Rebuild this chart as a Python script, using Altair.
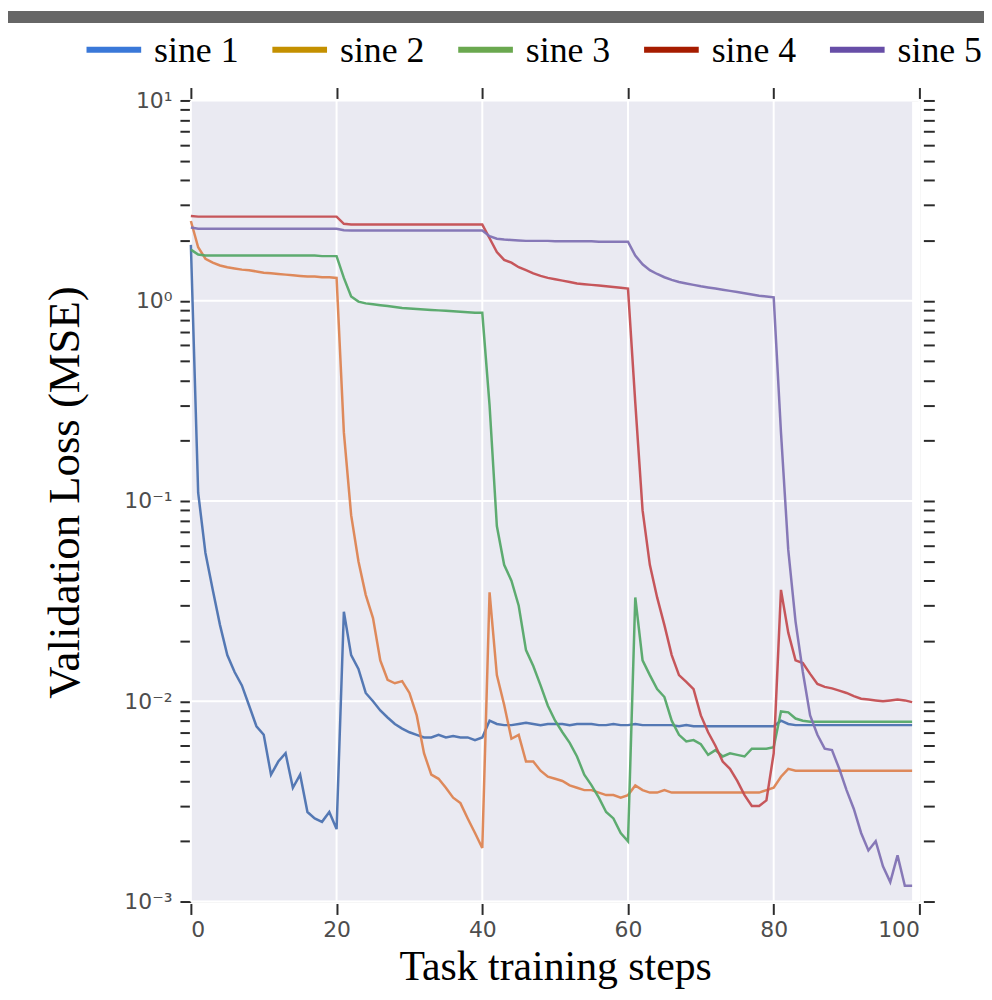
import altair as alt
import pandas as pd

steps = list(range(100))

sine_1 = [1.9, 0.11, 0.055, 0.036, 0.024, 0.017, 0.014, 0.012, 0.0095, 0.0075,
          0.0068, 0.0043, 0.0050, 0.0055, 0.0037, 0.0043, 0.0028, 0.0026, 0.0025, 0.0028,
          0.0023, 0.028, 0.017, 0.0145, 0.011, 0.0100, 0.0090, 0.0083, 0.0077, 0.0073,
          0.0070, 0.0068, 0.0066, 0.0066, 0.0068, 0.0066, 0.0067, 0.0066, 0.0066, 0.0064,
          0.0066, 0.0080, 0.0077, 0.0076, 0.0076, 0.0077, 0.0078, 0.0077, 0.0076, 0.0077,
          0.0077, 0.0077, 0.0076, 0.0077, 0.0077, 0.0077, 0.0076, 0.0076, 0.0077, 0.0076,
          0.0076, 0.0077, 0.0076, 0.0076, 0.0076, 0.0076, 0.0076, 0.0075, 0.0076, 0.0075,
          0.0075, 0.0075, 0.0075, 0.0075, 0.0075, 0.0075, 0.0075, 0.0075, 0.0075, 0.0075,
          0.0075, 0.0080, 0.0077, 0.0076, 0.0076, 0.0076, 0.0076, 0.0076, 0.0076, 0.0076,
          0.0076, 0.0076, 0.0076, 0.0076, 0.0076, 0.0076, 0.0076, 0.0076, 0.0076, 0.0076]

sine_2 = [2.5, 1.85, 1.62, 1.55, 1.5, 1.47, 1.45, 1.43, 1.42, 1.40,
          1.38, 1.37, 1.36, 1.35, 1.34, 1.33, 1.32, 1.32, 1.31, 1.31,
          1.30, 0.22, 0.085, 0.05, 0.034, 0.026, 0.016, 0.0128, 0.0123, 0.0126,
          0.011, 0.0085, 0.0055, 0.0043, 0.0041, 0.0037, 0.0033, 0.0031, 0.0026, 0.0022,
          0.00185, 0.035, 0.0135, 0.0096, 0.0065, 0.0068, 0.0050, 0.0050, 0.0045, 0.0042,
          0.0041, 0.0040, 0.0038, 0.0037, 0.0036, 0.0036, 0.0035, 0.0034, 0.0034, 0.0033,
          0.0034, 0.0038, 0.0036, 0.0035, 0.0035, 0.0036, 0.0035, 0.0035, 0.0035, 0.0035,
          0.0035, 0.0035, 0.0035, 0.0035, 0.0035, 0.0035, 0.0035, 0.0035, 0.0035, 0.0036,
          0.0037, 0.0042, 0.0046, 0.0045, 0.0045, 0.0045, 0.0045, 0.0045, 0.0045, 0.0045,
          0.0045, 0.0045, 0.0045, 0.0045, 0.0045, 0.0045, 0.0045, 0.0045, 0.0045, 0.0045]

sine_3 = [1.8, 1.7, 1.68, 1.68, 1.68, 1.68, 1.68, 1.68, 1.68, 1.68,
          1.68, 1.68, 1.68, 1.68, 1.68, 1.68, 1.68, 1.68, 1.67, 1.67,
          1.67, 1.3, 1.05, 0.99, 0.97, 0.96, 0.95, 0.94, 0.93, 0.92,
          0.915, 0.91, 0.905, 0.90, 0.895, 0.89, 0.885, 0.88, 0.875, 0.87,
          0.87, 0.30, 0.075, 0.048, 0.040, 0.030, 0.018, 0.015, 0.012, 0.0095,
          0.0080, 0.0070, 0.0062, 0.0053, 0.0043, 0.0038, 0.0033, 0.0028, 0.0026, 0.0022,
          0.0020, 0.033, 0.016, 0.0135, 0.0115, 0.0105, 0.0080, 0.0068, 0.0063, 0.0064,
          0.0061, 0.0054, 0.0057, 0.0053, 0.0055, 0.0054, 0.0053, 0.0058, 0.0058, 0.0058,
          0.0059, 0.0089, 0.0088, 0.0082, 0.0080, 0.0079, 0.0079, 0.0079, 0.0079, 0.0079,
          0.0079, 0.0079, 0.0079, 0.0079, 0.0079, 0.0079, 0.0079, 0.0079, 0.0079, 0.0079]

sine_4 = [2.65, 2.63, 2.63, 2.63, 2.63, 2.63, 2.63, 2.63, 2.63, 2.63,
          2.63, 2.63, 2.63, 2.63, 2.63, 2.63, 2.63, 2.63, 2.63, 2.63,
          2.63, 2.42, 2.40, 2.40, 2.40, 2.40, 2.40, 2.40, 2.40, 2.40,
          2.40, 2.40, 2.40, 2.40, 2.40, 2.40, 2.40, 2.40, 2.40, 2.40,
          2.40, 2.05, 1.75, 1.6, 1.55, 1.47, 1.42, 1.37, 1.33, 1.30,
          1.28, 1.26, 1.24, 1.22, 1.21, 1.20, 1.19, 1.18, 1.17, 1.16,
          1.15, 0.31, 0.09, 0.048, 0.033, 0.024, 0.017, 0.0135, 0.0125, 0.0115,
          0.0085, 0.0070, 0.0060, 0.0050, 0.0046, 0.0040, 0.0034, 0.0030, 0.0030, 0.0032,
          0.0055, 0.036, 0.022, 0.016, 0.0155, 0.0137, 0.0122, 0.0118, 0.0116, 0.0113,
          0.011, 0.0106, 0.0103, 0.0102, 0.0101, 0.0100, 0.0101, 0.0102, 0.0101, 0.0099]

sine_5 = [2.32, 2.29, 2.29, 2.29, 2.29, 2.29, 2.29, 2.29, 2.29, 2.29,
          2.29, 2.29, 2.29, 2.29, 2.29, 2.29, 2.29, 2.29, 2.29, 2.29,
          2.29, 2.25, 2.24, 2.24, 2.24, 2.24, 2.24, 2.24, 2.24, 2.24,
          2.24, 2.24, 2.24, 2.24, 2.24, 2.24, 2.24, 2.24, 2.24, 2.24,
          2.24, 2.1, 2.04, 2.02, 2.01, 2.0, 1.99, 1.99, 1.99, 1.99,
          1.98, 1.98, 1.98, 1.98, 1.98, 1.98, 1.97, 1.97, 1.97, 1.97,
          1.97, 1.68, 1.52, 1.42, 1.36, 1.31, 1.27, 1.24, 1.22, 1.20,
          1.18, 1.165, 1.15, 1.135, 1.12, 1.105, 1.09, 1.075, 1.06, 1.05,
          1.04, 0.22, 0.057, 0.025, 0.014, 0.0085, 0.0068, 0.0058, 0.0057, 0.0046,
          0.0036, 0.0029, 0.0022, 0.0018, 0.0020, 0.0015, 0.00125, 0.0017, 0.0012, 0.0012]

series_names = ["sine 1", "sine 2", "sine 3", "sine 4", "sine 5"]
line_colors = ["#4c72b0", "#dd8452", "#55a868", "#c44e52", "#8172b3"]
legend_colors = ["#3a78d8", "#c49000", "#6aa84f", "#a61c00", "#674ea7"]

x_tick_values = [0, 20, 40, 60, 80, 100]
y_major_values = [0.001, 0.01, 0.1, 1, 10]
y_major_labels = ["10⁻³", "10⁻²", "10⁻¹", "10⁰", "10¹"]
y_minor_mults = [2, 3, 4, 5, 6, 7, 8, 9]

x_title = "Task training steps"
y_title = "Validation Loss (MSE)"

rows = []
for name, vals in zip(series_names, [sine_1, sine_2, sine_3, sine_4, sine_5]):
    for s, v in zip(steps, vals):
        rows.append({"step": s, "loss": v, "series": name})
df = pd.DataFrame(rows)
legend_df = pd.DataFrame({"series": series_names, "color": legend_colors})

y_tick_values = sorted(y_major_values + [float(f"{m}e{k}") for k in range(-3, 1) for m in y_minor_mults])
label_expr = " : ".join(f"datum.value == {v} ? '{t}'" for v, t in zip(y_major_values, y_major_labels)) + " : ''"

x_scale = alt.Scale(domain=[0, 100], nice=False, zero=False)
y_scale = alt.Scale(type="log", domain=[0.001, 10], nice=False)

tick_style = dict(domain=False, grid=False, ticks=True, tickColor="#2b2b2b",
                  tickWidth=2, tickSize=11)

# plot background over the span of the data steps
background = alt.Chart(pd.DataFrame({"b": [0]})).mark_rect(color="#eaeaf2").encode(
    x=alt.X(datum=steps[0], scale=x_scale, axis=None),
    x2=alt.X2(datum=steps[-1]),
    y=alt.value(0), y2=alt.value("height"),
)

# vertical grid lines + top mirror ticks
vgrid = alt.Chart(pd.DataFrame({"v": x_tick_values})).mark_rule(
    color="white", strokeWidth=2
).encode(
    x=alt.X("v:Q", scale=x_scale,
            axis=alt.Axis(orient="top", values=x_tick_values, labels=False,
                          title=None, offset=2, **tick_style))
)

# horizontal grid lines + right mirror ticks
hgrid = alt.Chart(pd.DataFrame({"v": y_major_values})).mark_rule(
    color="white", strokeWidth=2
).encode(
    y=alt.Y("v:Q", scale=y_scale,
            axis=alt.Axis(orient="right", values=y_tick_values, labels=False,
                          title=None, offset=4, **tick_style))
)

lines = alt.Chart(df).mark_line(strokeWidth=2.5, opacity=0.95).encode(
    x=alt.X("step:Q", scale=x_scale,
            axis=alt.Axis(orient="bottom", values=x_tick_values, offset=2,
                          labelFont="DejaVu Sans", labelFontSize=22, labelColor="#4d4d4d",
                          labelPadding=5, labelOverlap=False,
                          title=x_title, titleFont="Liberation Serif", titleFontSize=42,
                          titleFontWeight="normal", titleColor="black",
                          titleBaseline="alphabetic", titleY=76, **tick_style)),
    y=alt.Y("loss:Q", scale=y_scale,
            axis=alt.Axis(orient="left", values=y_tick_values, labelExpr=label_expr,
                          labelFont="DejaVu Sans", labelFontSize=22, labelColor="#4d4d4d",
                          labelPadding=8, labelOverlap=False, labelBound=False,
                          title=y_title, titleFont="Liberation Serif", titleFontSize=45,
                          titleFontWeight="normal", titleColor="black", titleAngle=270,
                          titleBaseline="middle", titleX=-127, titleY=394, **tick_style)),
    color=alt.Color("series:N", scale=alt.Scale(domain=series_names, range=line_colors),
                    legend=None),
    order="step:Q",
)

# legend (symbols + labels) placed along a point scale of the series names
legend_x = alt.X("series:N", axis=None,
                 scale=alt.Scale(type="point", domain=series_names, range=[-77.5, 670.5], padding=0))

legend_symbols = alt.Chart(legend_df).mark_tick(
    orient="horizontal", size=55, thickness=6, opacity=1
).encode(
    x=legend_x, y=alt.value(-51), color=alt.Color("color:N", scale=None)
)

legend_labels = alt.Chart(legend_df).mark_text(
    align="left", baseline="alphabetic", dx=40.5,
    font="Liberation Serif", fontSize=36, color="black"
).encode(
    x=legend_x, y=alt.value(-39), text="series:N"
)

banner = alt.Chart(pd.DataFrame({"b": [0]})).mark_rect(color="#666666").encode(
    x=alt.value(-184), x2=alt.value(798), y=alt.value(-90), y2=alt.value(-78)
)

chart = alt.layer(
    background, vgrid, hgrid, lines, legend_symbols, legend_labels, banner
).resolve_scale(
    x="independent", y="independent"
).properties(
    width=733, height=806,
    padding={"left": 184, "top": 90, "right": 65, "bottom": 88},
    autosize=alt.AutoSizeParams(type="none"),
)

chart.save("out.html", embed_options={"renderer": "svg", "actions": False})
